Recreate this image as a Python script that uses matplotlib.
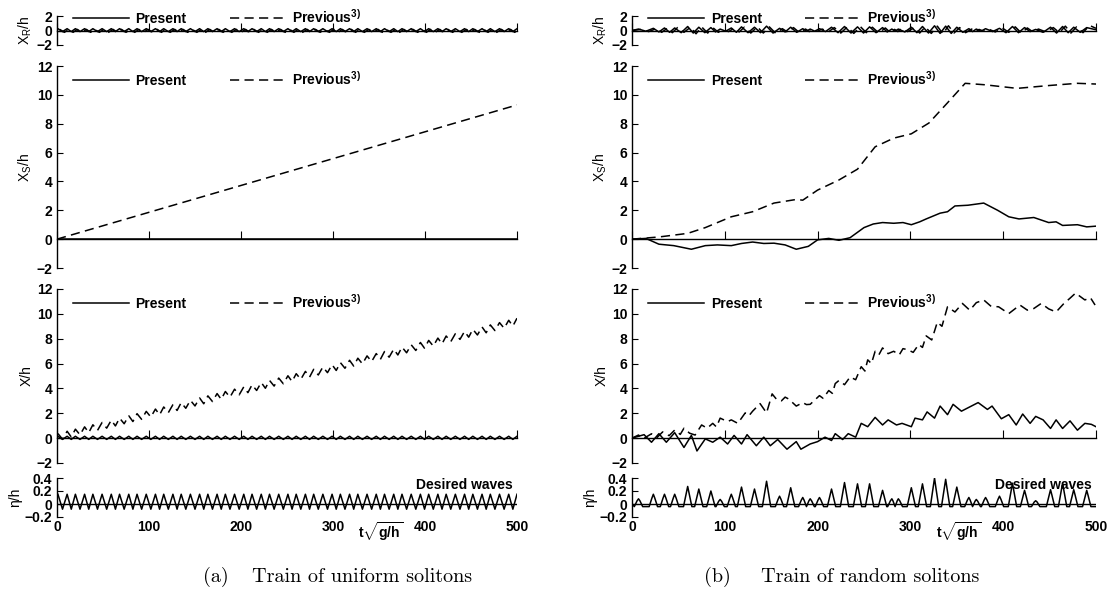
import numpy as np
import matplotlib.pyplot as plt
from matplotlib.lines import Line2D

plt.rcParams['font.family'] = ['Liberation Sans', 'DejaVu Sans']
plt.rcParams['font.weight'] = 'bold'
plt.rcParams['font.size'] = 10
plt.rcParams['mathtext.fontset'] = 'custom'
plt.rcParams['mathtext.rm'] = 'Liberation Sans:bold'
plt.rcParams['mathtext.it'] = 'Liberation Sans:bold'
plt.rcParams['mathtext.bf'] = 'Liberation Sans:bold'
plt.rcParams['mathtext.default'] = 'regular'
plt.rcParams['xtick.direction'] = 'in'
plt.rcParams['ytick.direction'] = 'in'
plt.rcParams['ytick.major.size'] = 4
plt.rcParams['axes.linewidth'] = 1.0

# ---------------- data: (a) uniform solitons ----------------
# crest times of the uniform wave train
u_peak_t = [1, 11, 20, 30, 39, 49, 59, 68, 78, 87, 97, 107, 116, 126, 135, 145,
            155, 164, 174, 183, 193, 203, 212, 222, 231, 241, 251, 260, 270, 279,
            289, 299, 308, 318, 327, 337, 347, 356, 366, 375, 385, 395, 404, 414,
            423, 433, 443, 452, 462, 471, 481, 491, 500]
eta_u_crest, eta_u_trough = 0.15, -0.08
xr_u_present_crest, xr_u_present_trough = 0.25, -0.15
xr_u_prev_crest, xr_u_prev_trough = 0.15, -0.25
x_u_present_crest, x_u_present_trough = 0.15, -0.1
x_u_prev_crest, x_u_prev_trough = 0.35, -0.2
xs_u_t = [0, 500]
xs_u_present = [0.0, 0.0]
xs_u_prev = [0.0, 9.3]

# ---------------- data: (b) random solitons ----------------
r_peak_t = [7, 23, 35, 46, 60, 72, 85, 95, 107, 118, 132, 145, 159, 171, 184, 192,
            202, 215, 229, 243, 256, 270, 280, 287, 301, 313, 326, 338, 350, 363,
            371, 381, 396, 410, 423, 435, 451, 464, 476, 490]
r_peak_h = [0.08, 0.15, 0.15, 0.15, 0.27, 0.23, 0.2, 0.07, 0.15, 0.26, 0.23, 0.35,
            0.12, 0.25, 0.1, 0.08, 0.1, 0.23, 0.33, 0.31, 0.31, 0.21, 0.08, 0.08,
            0.25, 0.31, 0.4, 0.38, 0.26, 0.1, 0.07, 0.1, 0.12, 0.32, 0.21, 0.05,
            0.22, 0.32, 0.22, 0.21]
eta_r_trough = -0.04

xr_r_present_crest = [0.2, 0.3, 0.35, 0.35, 0.55, 0.45, 0.4, 0.2, 0.35, 0.5, 0.45, 0.6,
                      0.3, 0.45, 0.25, 0.2, 0.25, 0.45, 0.55, 0.5, 0.5, 0.4, 0.2, 0.2,
                      0.45, 0.55, 0.65, 0.6, 0.45, 0.25, 0.2, 0.25, 0.3, 0.55, 0.4, 0.15,
                      0.45, 0.55, 0.45, 0.4]
xr_r_present_trough = [-0.1, -0.2, -0.25, -0.3, -0.35, -0.3, -0.2, -0.1, -0.25, -0.3,
                       -0.3, -0.35, -0.2, -0.25, -0.1, -0.1, -0.15, -0.3, -0.35, -0.35,
                       -0.3, -0.2, -0.1, -0.2, -0.3, -0.35, -0.4, -0.4, -0.25, -0.15,
                       -0.1, -0.15, -0.3, -0.3, -0.15, -0.25, -0.35, -0.3, -0.25]
xr_r_prev_crest = [0.15, 0.25, 0.3, 0.4, 0.45, 0.5, 0.3, 0.15, 0.3, 0.45, 0.5, 0.5,
                   0.25, 0.4, 0.2, 0.15, 0.2, 0.4, 0.5, 0.55, 0.45, 0.35, 0.15, 0.25,
                   0.4, 0.5, 0.6, 0.65, 0.4, 0.2, 0.15, 0.2, 0.35, 0.5, 0.35, 0.2,
                   0.4, 0.6, 0.5, 0.7]
xr_r_prev_trough = [-0.15, -0.25, -0.3, -0.25, -0.45, -0.35, -0.25, -0.15, -0.2, -0.35,
                    -0.35, -0.4, -0.25, -0.3, -0.15, -0.1, -0.2, -0.35, -0.4, -0.3,
                    -0.35, -0.25, -0.15, -0.15, -0.35, -0.4, -0.45, -0.35, -0.3, -0.2,
                    -0.1, -0.2, -0.25, -0.35, -0.2, -0.2, -0.3, -0.35, -0.3]

xs_r_present_t = [0, 15, 29, 45, 64, 79, 92, 107, 118, 130, 142, 153, 165, 177, 190,
                  200, 212, 223, 235, 250, 260, 270, 282, 292, 301, 310, 317, 332, 340,
                  348, 362, 379, 394, 406, 417, 433, 449, 457, 464, 480, 490, 500]
xs_r_present = [0.0, 0.05, -0.35, -0.45, -0.7, -0.45, -0.4, -0.45, -0.3, -0.2, -0.3,
                -0.28, -0.4, -0.7, -0.5, -0.05, 0.05, -0.08, 0.1, 0.8, 1.05, 1.15, 1.1,
                1.15, 1.0, 1.2, 1.4, 1.8, 1.9, 2.3, 2.35, 2.5, 2.0, 1.55, 1.4, 1.5,
                1.15, 1.2, 0.95, 1.0, 0.85, 0.9]
xs_r_prev_t = [0, 29, 60, 79, 107, 130, 153, 177, 184, 200, 223, 243, 262, 282, 301,
               320, 340, 359, 380, 415, 450, 480, 500]
xs_r_prev = [0.0, 0.15, 0.4, 0.8, 1.55, 1.9, 2.5, 2.75, 2.7, 3.4, 4.1, 4.85, 6.4, 7.0,
             7.3, 8.05, 9.45, 10.8, 10.7, 10.45, 10.65, 10.8, 10.75]

x_r_present_t = [0, 13, 21, 29, 37, 46, 56, 64, 70, 79, 87, 95, 103, 110, 118, 124, 134,
                 142, 149, 157, 167, 177, 182, 192, 200, 208, 215, 219, 227, 233, 241,
                 247, 254, 262, 270, 276, 285, 291, 301, 305, 313, 318, 326, 332, 340,
                 346, 355, 373, 383, 388, 398, 406, 414, 421, 429, 435, 443, 451, 457,
                 464, 472, 480, 488, 495, 500]
x_r_present = [0.0, 0.28, -0.33, 0.36, -0.33, 0.44, -0.75, 0.22, -1.03, -0.06, -0.33,
               0.08, -0.47, 0.22, -0.47, 0.28, -0.61, 0.08, -0.61, -0.11, -0.89, -0.28,
               -0.89, -0.47, -0.28, 0.08, -0.19, 0.36, -0.11, 0.36, 0.08, 1.19, 0.92,
               1.67, 1.06, 1.47, 1.06, 1.19, 0.92, 1.61, 1.47, 2.11, 1.61, 2.58, 1.89,
               2.72, 2.17, 2.86, 2.31, 2.58, 1.56, 1.89, 1.06, 1.94, 1.19, 1.75, 1.47,
               0.78, 1.47, 0.78, 1.39, 0.64, 1.19, 1.11, 0.92]
x_r_prev_t = [0, 7, 12, 21, 27, 33, 40, 46, 52, 56, 62, 68, 75, 81, 87, 91, 95, 103,
              107, 114, 122, 126, 130, 138, 145, 151, 156, 161, 165, 169, 177, 184,
              188, 192, 202, 206, 212, 216, 219, 223, 229, 235, 241, 247, 251, 254,
              258, 262, 266, 270, 276, 282, 288, 292, 297, 303, 309, 313, 317, 323,
              329, 334, 340, 348, 356, 364, 371, 379, 387, 395, 406, 418, 426, 433,
              441, 449, 457, 465, 472, 478, 488, 494, 499]
x_r_prev = [0.0, 0.25, -0.05, 0.35, 0.05, 0.5, 0.2, 0.65, 0.3, 0.8, 0.4, 0.25, 1.06,
            0.8, 1.19, 0.9, 1.61, 1.33, 1.47, 1.19, 2.03, 1.8, 2.17, 2.78, 2.03, 3.56,
            3.1, 3.0, 3.3, 3.14, 2.58, 2.86, 2.7, 2.72, 3.42, 3.2, 3.83, 3.6, 4.39,
            4.64, 4.3, 4.92, 4.7, 5.75, 5.4, 6.3, 6.0, 6.99, 6.7, 7.26, 6.8, 6.99, 6.7,
            7.2, 7.12, 6.9, 7.54, 7.3, 8.23, 7.9, 9.33, 9.0, 10.57, 10.15, 10.84, 10.29,
            10.9, 11.12, 10.6, 10.57, 10.02, 10.71, 10.3, 10.43, 10.84, 10.4, 10.15,
            10.8, 11.26, 11.67, 11.12, 11.3, 10.71]

y_ticks_big = [-2, 0, 2, 4, 6, 8, 10, 12]
eta_ticks = [-0.2, 0, 0.2, 0.4]
eta_tick_labels = ['\u22120.2', '0', '0.2', '0.4']
x_ticks = [0, 100, 200, 300, 400, 500]


def zigzag(peaks, crest, trough):
    # crest at each peak time, trough half way between neighbouring peaks
    peaks = np.asarray(peaks, float)
    mids = (peaks[:-1] + peaks[1:]) / 2
    crest = np.broadcast_to(np.asarray(crest, float), peaks.shape)
    trough = np.broadcast_to(np.asarray(trough, float), mids.shape)
    t = np.empty(len(peaks) + len(mids))
    y = np.empty_like(t)
    t[0::2], t[1::2] = peaks, mids
    y[0::2], y[1::2] = crest, trough
    return t, y


def spikes(peaks, heights, trough, half=4.5):
    # each soliton drawn as a narrow hump standing on the trough level
    t, y = [0.0], [0.0]
    for i, (p, h) in enumerate(zip(peaks, heights)):
        gap_l = p - peaks[i - 1] if i > 0 else 2 * half
        gap_r = peaks[i + 1] - p if i + 1 < len(peaks) else 2 * half
        wl, wr = min(half, gap_l / 2), min(half, gap_r / 2)
        t += [p - wl, p - 0.35 * wl, p, p + 0.35 * wr, p + wr]
        y += [trough, 0.6 * h, h, 0.6 * h, trough]
    t.append(500.0)
    y.append(trough)
    return np.array(t), np.array(y)


W, H = 1115, 600
cols = [(57, 517), (632, 1096)]
rows = [(16, 45), (66, 268), (289, 463), (478, 517)]

fig = plt.figure(figsize=(W / 100, H / 100), dpi=100)


def make_ax(c, r):
    x0, x1 = cols[c]
    y0, y1 = rows[r]
    return fig.add_axes([x0 / W, 1 - y1 / H, (x1 - x0) / W, (y1 - y0) / H])


def setup(ax, ylim, yticks, bottom=False):
    ax.set_xlim(0, 500)
    ax.set_ylim(*ylim)
    ax.set_yticks(yticks)
    ax.set_xticks(x_ticks)
    ax.spines['top'].set_visible(False)
    ax.spines['right'].set_visible(False)
    ax.patch.set_alpha(0)
    if bottom:
        ax.spines['bottom'].set_visible(False)
        ax.axhline(0, color='k', lw=1.0)
        ax.tick_params(axis='x', length=0, pad=2)
    else:
        ax.spines['bottom'].set_position(('data', 0))
        ax.tick_params(axis='x', length=6, labelbottom=False)


dash = (0, (6, 3.5))
lw = 1.1


def add_legend(ax, y):
    h = [Line2D([], [], color='k', lw=lw),
         Line2D([], [], color='k', lw=lw, ls=dash)]
    ax.legend(h, ['Present', 'Previous$^{3)}$'], loc='center left',
              bbox_to_anchor=(0.035, y), ncol=2, frameon=False, handlelength=4.0,
              columnspacing=3.1, handletextpad=0.5, borderpad=0, borderaxespad=0)


for c in range(2):
    ax_r, ax_s, ax_x, ax_e = [make_ax(c, r) for r in range(4)]

    if c == 0:
        t, y = zigzag(u_peak_t, xr_u_present_crest, xr_u_present_trough)
        ax_r.plot(t, y, 'k-', lw=lw)
        t, y = zigzag(u_peak_t, xr_u_prev_crest, xr_u_prev_trough)
        ax_r.plot(t + 2, y, 'k', ls=dash, lw=lw)

        ax_s.plot(xs_u_t, xs_u_present, 'k-', lw=lw)
        ax_s.plot(xs_u_t, xs_u_prev, 'k', ls=dash, lw=lw)

        t, y = zigzag(u_peak_t, x_u_present_crest, x_u_present_trough)
        ax_x.plot(t, y, 'k-', lw=lw)
        t, y = zigzag(u_peak_t, x_u_prev_crest, x_u_prev_trough)
        ax_x.plot(t, y + np.interp(t, xs_u_t, xs_u_prev), 'k', ls=dash, lw=lw)

        t, y = zigzag(u_peak_t, eta_u_crest, eta_u_trough)
        ax_e.plot(t, y, 'k-', lw=lw)
    else:
        t, y = zigzag(r_peak_t, xr_r_present_crest, xr_r_present_trough)
        ax_r.plot(np.r_[0, t, 500], np.r_[0, y, 0.1], 'k-', lw=lw)
        t, y = zigzag(r_peak_t, xr_r_prev_crest, xr_r_prev_trough)
        ax_r.plot(np.r_[0, t + 3, 500], np.r_[0, y, 0.3], 'k', ls=dash, lw=lw)

        ax_s.plot(xs_r_present_t, xs_r_present, 'k-', lw=lw)
        ax_s.plot(xs_r_prev_t, xs_r_prev, 'k', ls=dash, lw=lw)

        ax_x.plot(x_r_present_t, x_r_present, 'k-', lw=lw)
        ax_x.plot(x_r_prev_t, x_r_prev, 'k', ls=dash, lw=lw)

        t, y = spikes(r_peak_t, r_peak_h, eta_r_trough)
        ax_e.plot(t, y, 'k-', lw=lw)

    setup(ax_r, (-2, 2), [-2, 0, 2])
    setup(ax_s, (-2, 12), y_ticks_big)
    setup(ax_x, (-2, 12), y_ticks_big)
    setup(ax_e, (-0.2, 0.4), eta_ticks, bottom=True)
    ax_e.set_yticklabels(eta_tick_labels)

    ax_r.set_ylabel('X$_R$/h', labelpad=2)
    ax_s.set_ylabel('X$_S$/h', labelpad=2)
    ax_x.set_ylabel('X/h', labelpad=2)
    ax_e.set_ylabel('\u03b7/h', labelpad=2)

    add_legend(ax_r, 0.97)
    add_legend(ax_s, 0.935)
    add_legend(ax_x, 0.925)

    ax_e.text(0.99, 1.0, 'Desired waves', transform=ax_e.transAxes,
              ha='right', va='top')
    ax_e.annotate(r'$t\sqrt{g/h}$', xy=(352, 0), xycoords=('data', 'axes fraction'),
                  xytext=(0, -2), textcoords='offset points', ha='center', va='top')

cap = dict(fontname='cmr10', fontsize=14.5, fontweight='normal', va='center')
fig.text(203 / W, 1 - 577 / H, '(a)', **cap)
fig.text(252 / W, 1 - 577 / H, 'Train of uniform solitons', **cap)
fig.text(704 / W, 1 - 577 / H, '(b)', **cap)
fig.text(761 / W, 1 - 577 / H, 'Train of random solitons', **cap)

fig.savefig('out.png', dpi=100)
